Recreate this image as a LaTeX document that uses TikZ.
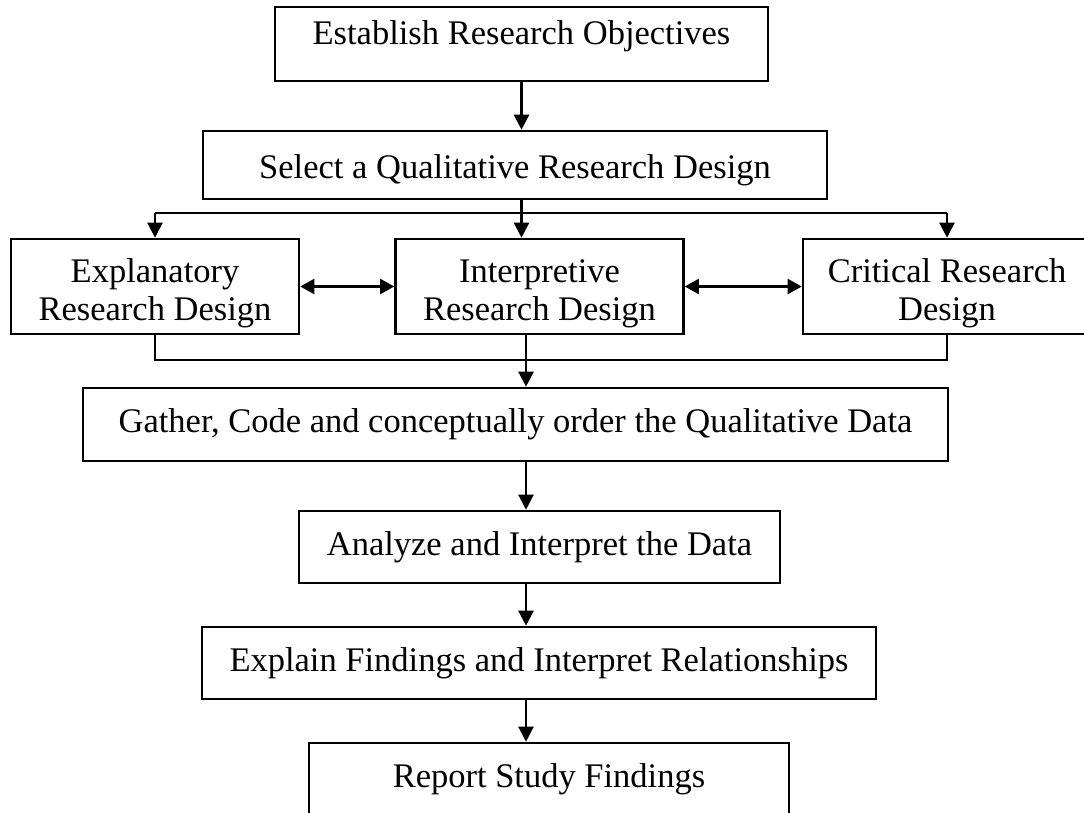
\documentclass[tikz,border=0pt]{standalone}
\usepackage{fontspec}
\setmainfont{Liberation Serif}
\usetikzlibrary{arrows.meta}

\begin{document}
\begin{tikzpicture}[x=1pt, y=-1pt,
      every node/.style={draw, rectangle, inner sep=0pt, line width=2.6pt,
        align=center, font=\fontsize{34.5}{38}\selectfont},
      flow/.style={line width=2.3pt, -{Triangle[length=15pt,width=15pt]}},
      both/.style={line width=2.3pt,
        {Triangle[length=14pt,width=15pt]}-{Triangle[length=14pt,width=15pt]}},
      lowtext/.style={text height=30pt, text depth=14pt},
      design/.style={minimum width=288pt, minimum height=95pt},]
    \useasboundingbox (0,0) rectangle (1084,812);
    \clip (0,0) rectangle (1084,812);
    \fill[white] (0,0) rectangle (1084,812);
    \coordinate (axis) at (526,0);
    \coordinate (split) at (0,213);
    \coordinate (merge) at (0,360);

    % steps
    \node[minimum width=493pt, minimum height=74pt, text height=26pt, text depth=26pt]
      (obj) at (521.5,44) {Establish Research Objectives};
    \node[minimum width=624pt, minimum height=68pt, text height=34pt, text depth=8pt]
      (sel) at (515,165) {Select a Qualitative Research Design};
    \node[design] (expl) at (155,286.5) {\rule{0pt}{36.5pt}Explanatory\\Research Design};
    \node[design] (interp) at (539.5,286.5) {\rule{0pt}{36.5pt}Interpretive\\Research Design};
    \node[design] (crit) at (947,286.5) {\rule{0pt}{36.5pt}Critical Research\\Design};
    \node[lowtext, minimum width=865pt, minimum height=73pt]
      (gather) at (515.5,424.5) {Gather, Code and conceptually order the Qualitative Data};
    \node[lowtext, minimum width=481pt, minimum height=72pt]
      (anal) at (539.5,547) {Analyze and Interpret the Data};
    \node[lowtext, minimum width=674pt, minimum height=72pt]
      (expf) at (539,663) {Explain Findings and Interpret Relationships};
    \node[lowtext, minimum width=480pt, minimum height=72pt]
      (rep) at (549,779) {Report Study Findings};

    % connectors
    \draw[flow] (obj.south) -- (obj.south |- sel.north);
    \draw[flow] (sel.south -| obj.south) -- (interp.north -| obj.south);
    \draw[line width=2.3pt] (expl.north |- split) -- (crit.north |- split);
    \draw[flow] (expl.north |- split) -- (expl.north);
    \draw[flow] (crit.north |- split) -- (crit.north);
    \draw[both] (expl.east) -- (interp.west);
    \draw[both] (interp.east) -- (crit.west);
    \draw[line width=2.3pt] (expl.south) |- (crit.south |- merge) -- (crit.south);
    \draw[flow] (interp.south -| axis) -- (gather.north -| axis);
    \draw[flow] (gather.south -| axis) -- (anal.north -| axis);
    \draw[flow] (anal.south -| axis) -- (expf.north -| axis);
    \draw[flow] (expf.south -| axis) -- (rep.north -| axis);
\end{tikzpicture}
\end{document}
